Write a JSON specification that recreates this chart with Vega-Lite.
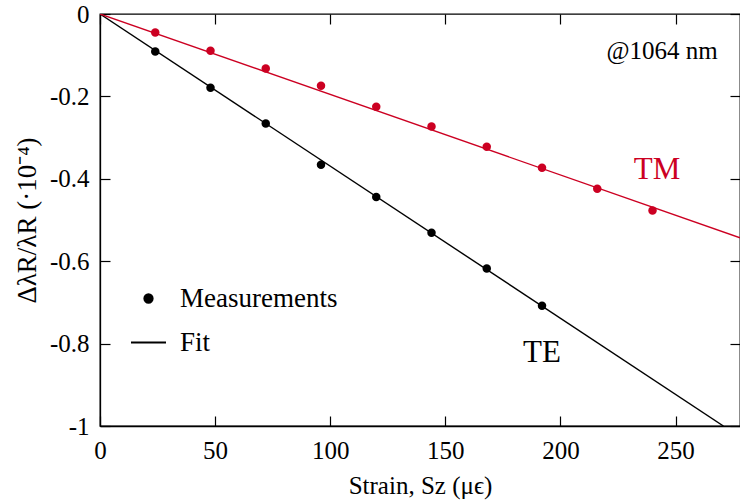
{
  "$schema": "https://vega.github.io/schema/vega-lite/v6.json",
  "width": 640,
  "height": 412,
  "autosize": {"type": "none"},
  "padding": {"left": 100, "top": 14, "right": 0, "bottom": 78},
  "background": "white",
  "config": {
    "font": "Liberation Serif",
    "text": {"font": "Liberation Serif"},
    "style": {
      "guide-label": {"font": "Liberation Serif", "fill": "black"},
      "guide-title": {"font": "Liberation Serif", "fill": "black", "fontWeight": "normal"}
    },
    "view": {"stroke": "black", "strokeWidth": 1.3},
    "axis": {
      "domainColor": "black", "domainWidth": 1.3, "tickColor": "black", "tickWidth": 1.2,
      "labelColor": "black", "titleColor": "black", "grid": false,
      "labelFont": "Liberation Serif", "titleFont": "Liberation Serif",
      "labelFontSize": 25, "titleFontSize": 25, "titleFontWeight": "normal",
      "tickSize": -10, "labelFlush": false
    },
    "legend": {"labelFont": "Liberation Serif"}
  },
  "datasets": {
    "points": [
      {"series": "TE", "kind": "Measurements", "strain": 24, "shift": -0.091},
      {"series": "TE", "kind": "Measurements", "strain": 48, "shift": -0.179},
      {"series": "TE", "kind": "Measurements", "strain": 72, "shift": -0.266},
      {"series": "TE", "kind": "Measurements", "strain": 96, "shift": -0.366},
      {"series": "TE", "kind": "Measurements", "strain": 120, "shift": -0.444},
      {"series": "TE", "kind": "Measurements", "strain": 144, "shift": -0.531},
      {"series": "TE", "kind": "Measurements", "strain": 168, "shift": -0.618},
      {"series": "TE", "kind": "Measurements", "strain": 192, "shift": -0.708},
      {"series": "TM", "kind": "Measurements", "strain": 24, "shift": -0.045},
      {"series": "TM", "kind": "Measurements", "strain": 48, "shift": -0.089},
      {"series": "TM", "kind": "Measurements", "strain": 72, "shift": -0.132},
      {"series": "TM", "kind": "Measurements", "strain": 96, "shift": -0.174},
      {"series": "TM", "kind": "Measurements", "strain": 120, "shift": -0.225},
      {"series": "TM", "kind": "Measurements", "strain": 144, "shift": -0.273},
      {"series": "TM", "kind": "Measurements", "strain": 168, "shift": -0.322},
      {"series": "TM", "kind": "Measurements", "strain": 192, "shift": -0.373},
      {"series": "TM", "kind": "Measurements", "strain": 216, "shift": -0.424},
      {"series": "TM", "kind": "Measurements", "strain": 240, "shift": -0.477}
    ],
    "fit": [
      {"series": "TE", "strain": 0, "shift": 0},
      {"series": "TE", "strain": 270.8, "shift": -1},
      {"series": "TM", "strain": 0, "shift": 0},
      {"series": "TM", "strain": 278, "shift": -0.543}
    ]
  },
  "resolve": {"axis": {"x": "independent", "y": "independent"}},
  "layer": [
    {
      "data": {"name": "fit"},
      "mark": {"type": "line", "strokeWidth": 1.4, "clip": true},
      "encoding": {
        "x": {"field": "strain", "type": "quantitative",
              "scale": {"domain": [0, 278], "nice": false, "zero": false},
              "axis": {"orient": "bottom", "values": [0, 50, 100, 150, 200, 250], "labelPadding": 22,
                       "labelFont": "Liberation Serif", "titleFont": "Liberation Serif", "labelFlush": false,
                       "title": "Strain, Sz (μϵ)", "titlePadding": 10}},
        "y": {"field": "shift", "type": "quantitative",
              "scale": {"domain": [-1, 0], "nice": false, "zero": false},
              "axis": {"orient": "left", "values": [-1, -0.8, -0.6, -0.4, -0.2, 0], "labelPadding": 21,
                       "labelFont": "Liberation Serif", "titleFont": "Liberation Serif", "labelFlush": false,
                       "labelExpr": "replace(format(datum.value, '.1~f'), '−', '-')",
                       "title": "ΔλR/λR (·10⁻⁴)", "titleFontSize": 27, "titlePadding": 8}},
        "color": {"field": "series", "type": "nominal", "scale": {"domain": ["TE", "TM"], "range": ["black", "#cc0022"]}, "legend": null},
        "detail": {"field": "series"}
      }
    },
    {
      "data": {"name": "points"},
      "mark": {"type": "point", "filled": true, "opacity": 1},
      "encoding": {
        "x": {"field": "strain", "type": "quantitative",
              "axis": {"orient": "top", "values": [0, 50, 100, 150, 200, 250], "labels": false, "title": null, "domain": false}},
        "y": {"field": "shift", "type": "quantitative",
              "axis": {"orient": "right", "values": [-1, -0.8, -0.6, -0.4, -0.2, 0], "labels": false, "title": null, "domain": false}},
        "color": {"field": "series", "type": "nominal", "legend": null},
        "shape": {"field": "kind", "type": "nominal",
                  "scale": {"domain": ["Measurements", "Fit"], "range": ["circle", "stroke"]},
                  "legend": {"title": null, "orient": "none", "legendX": 30, "legendY": 271,
                             "labelFontSize": 27, "labelFont": "Liberation Serif", "labelColor": "black", "labelLimit": 400,
                             "labelOffset": 13, "rowPadding": 12,
                             "symbolStrokeWidth": 1.8, "symbolStrokeColor": "black", "symbolFillColor": "black",
                             "encode": {"symbols": {"update": {"fill": {"value": "black"}, "stroke": {"value": "black"}, "strokeWidth": {"value": 1.9}, "opacity": {"value": 1}}}}}},
        "size": {"field": "kind", "type": "nominal",
                 "scale": {"domain": ["Measurements", "Fit"], "range": [72, 1225]},
                 "legend": {"title": null, "orient": "none", "legendX": 30, "legendY": 271,
                            "labelFontSize": 27, "labelFont": "Liberation Serif", "labelColor": "black", "labelLimit": 400,
                            "labelOffset": 13, "rowPadding": 12,
                            "symbolStrokeWidth": 1.8, "symbolStrokeColor": "black", "symbolFillColor": "black",
                            "encode": {"symbols": {"update": {"fill": {"value": "black"}, "stroke": {"value": "black"}, "strokeWidth": {"value": 1.9}, "opacity": {"value": 1}}}}}}
      }
    },
    {
      "data": {"values": [{"label": "@1064 nm"}]},
      "mark": {"type": "text", "fontSize": 25, "align": "right", "baseline": "middle", "color": "black", "font": "Liberation Serif"},
      "encoding": {
        "x": {"datum": 268.3, "type": "quantitative", "axis": null},
        "y": {"datum": -0.091, "type": "quantitative", "axis": null},
        "text": {"field": "label"}
      }
    },
    {
      "data": {"values": [{"label": "TM"}]},
      "mark": {"type": "text", "fontSize": 31, "align": "center", "baseline": "middle", "color": "#cc0022", "font": "Liberation Serif"},
      "encoding": {
        "x": {"datum": 242, "type": "quantitative", "axis": null},
        "y": {"datum": -0.378, "type": "quantitative", "axis": null},
        "text": {"field": "label"}
      }
    },
    {
      "data": {"values": [{"label": "TE"}]},
      "mark": {"type": "text", "fontSize": 31, "align": "center", "baseline": "middle", "color": "black", "font": "Liberation Serif"},
      "encoding": {
        "x": {"datum": 192, "type": "quantitative", "axis": null},
        "y": {"datum": -0.823, "type": "quantitative", "axis": null},
        "text": {"field": "label"}
      }
    }
  ]
}
